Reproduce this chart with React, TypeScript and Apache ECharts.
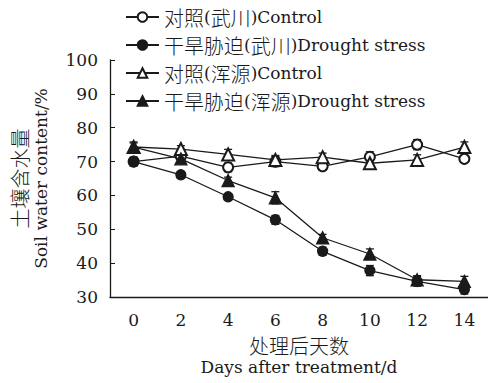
import React, { useEffect, useRef } from "react";
import * as echarts from "echarts";

const days = ["0", "2", "4", "6", "8", "10", "12", "14"];
const seriesNames = [
  "对照(武川)Control",
  "干旱胁迫(武川)Drought stress",
  "对照(浑源)Control",
  "干旱胁迫(浑源)Drought stress",
];
const xAxisTitle = "处理后天数\nDays after treatment/d";
const yAxisTitle = "土壤含水量\nSoil water content/%";
const controlWC = [70.0, 71.6, 68.3, 70.0, 68.6, 71.4, 75.0, 70.8];
const droughtWC = [70.0, 66.1, 59.6, 52.8, 43.5, 37.8, 34.6, 32.2];
const controlHY = [74.3, 73.7, 72.1, 70.5, 71.3, 69.5, 70.5, 74.3];
const droughtHY = [74.3, 70.8, 64.4, 59.3, 47.5, 42.7, 35.1, 34.6];
const errControlWC = [1.2, 1.0, 1.3, 1.5, 1.2, 1.5, 1.5, 1.0];
const errDroughtWC = [1.3, 1.0, 0.8, 1.3, 1.2, 1.5, 1.4, 1.3];
const errControlHY = [1.2, 1.0, 1.5, 1.3, 1.2, 1.3, 1.5, 1.5];
const errDroughtHY = [1.5, 1.0, 1.0, 1.8, 1.0, 1.5, 1.2, 1.5];

const FONT = '"DejaVu Serif", "Noto Sans CJK SC", serif';
const INK = "#1a1a1a";
const cjkRich = {
  c: { fontFamily: '"Noto Sans CJK SC"', fontSize: 20, fontWeight: 300, color: INK },
};
const richify = (s: string) =>
  s
    .split("\n")
    .map((line) => line.replace(/([\u4e00-\u9fff]+)/g, "{c|$1}"))
    .join("\n");

const errorSeries = (vals: number[], errs: number[]) => ({
  type: "custom",
  silent: true,
  z: 3,
  data: vals.map((v, i) => [i, v - errs[i], v + errs[i]]),
  encode: { x: 0, y: [1, 2] },
  renderItem: (params: any, api: any) => {
    const x = api.value(0);
    const lo = api.coord([x, api.value(1)]);
    const hi = api.coord([x, api.value(2)]);
    const w = 4;
    const style = { stroke: INK, lineWidth: 1.3 };
    return {
      type: "group",
      children: [
        { type: "line", shape: { x1: lo[0], y1: lo[1], x2: hi[0], y2: hi[1] }, style },
        { type: "line", shape: { x1: lo[0] - w, y1: lo[1], x2: lo[0] + w, y2: lo[1] }, style },
        { type: "line", shape: { x1: hi[0] - w, y1: hi[1], x2: hi[0] + w, y2: hi[1] }, style },
      ],
    };
  },
});

const lineSeries = (name: string, vals: number[], symbol: string) => ({
  name,
  type: "line",
  data: vals,
  symbol,
  symbolSize: symbol.includes("riangle") ? 12 : 10,
  z: 4,
  lineStyle: { color: INK, width: 1.3 },
  itemStyle: { color: INK, borderColor: INK, borderWidth: 1.3 },
});

export default function App() {
  const ref = useRef<HTMLDivElement>(null);
  useEffect(() => {
    if (!ref.current) return;
    const chart = echarts.init(ref.current, null, { renderer: "svg" });
    chart.setOption({
      animation: false,
      backgroundColor: "#ffffff",
      textStyle: { fontFamily: FONT, color: INK },
      legend: {
        orient: "vertical",
        left: 120,
        top: 2,
        itemWidth: 33,
        itemHeight: 12,
        itemGap: 8,
        data: seriesNames,
        formatter: (n: string) => richify(n),
        textStyle: {
          fontFamily: FONT,
          fontSize: 17,
          color: INK,
          lineHeight: 20,
          rich: { c: { ...cjkRich.c, lineHeight: 20 } },
        },
      },
      grid: { left: 108, top: 60, right: -3, bottom: 81 },
      xAxis: {
        type: "category",
        data: days,
        boundaryGap: true,
        name: richify(xAxisTitle),
        nameLocation: "middle",
        nameGap: 37,
        nameTextStyle: { fontFamily: FONT, fontSize: 17, color: INK, lineHeight: 22, rich: cjkRich },
        axisLine: { lineStyle: { color: INK, width: 1.3 } },
        axisTick: { inside: true, length: 5, alignWithLabel: false, lineStyle: { color: INK } },
        axisLabel: { fontFamily: FONT, fontSize: 17, color: INK, margin: 14 },
        splitLine: { show: false },
      },
      yAxis: {
        type: "value",
        min: 30,
        max: 100,
        interval: 10,
        name: richify(yAxisTitle),
        nameLocation: "middle",
        nameGap: 58,
        nameRotate: 90,
        nameTextStyle: { fontFamily: FONT, fontSize: 17, color: INK, lineHeight: 22, rich: cjkRich },
        axisLine: { show: true, lineStyle: { color: INK, width: 1.3 } },
        axisTick: { show: true, inside: true, length: 5, lineStyle: { color: INK } },
        axisLabel: { fontFamily: FONT, fontSize: 17, color: INK, margin: 12 },
        splitLine: { show: false },
      },
      series: [
        errorSeries(controlWC, errControlWC),
        errorSeries(droughtWC, errDroughtWC),
        errorSeries(controlHY, errControlHY),
        errorSeries(droughtHY, errDroughtHY),
        lineSeries(seriesNames[0], controlWC, "emptyCircle"),
        lineSeries(seriesNames[1], droughtWC, "circle"),
        lineSeries(seriesNames[2], controlHY, "emptyTriangle"),
        lineSeries(seriesNames[3], droughtHY, "triangle"),
      ],
    });
    return () => chart.dispose();
  }, []);
  return (
    <div
      ref={ref}
      style={{ position: "fixed", left: 0, top: 0, width: 488, height: 383 }}
    />
  );
}
